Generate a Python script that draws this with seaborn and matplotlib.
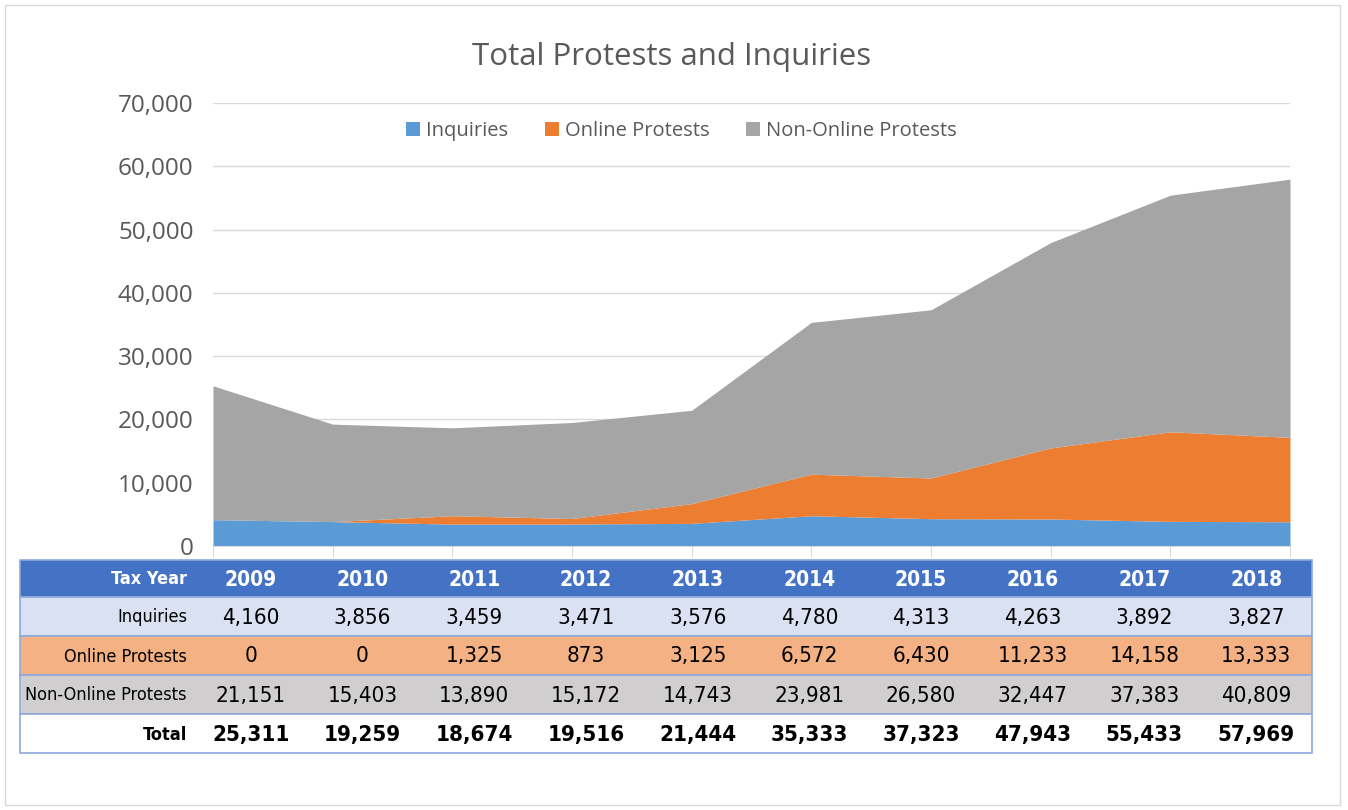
import numpy as np
import matplotlib
matplotlib.use('Agg')
import matplotlib.pyplot as plt
import seaborn as sns
from matplotlib.patches import Rectangle

# Datos
anos = [2009, 2010, 2011, 2012, 2013, 2014, 2015, 2016, 2017, 2018]
inquiries = [4160, 3856, 3459, 3471, 3576, 4780, 4313, 4263, 3892, 3827]
online = [0, 0, 1325, 873, 3125, 6572, 6430, 11233, 14158, 13333]
non_online = [21151, 15403, 13890, 15172, 14743, 23981, 26580, 32447, 37383, 40809]
total = [25311, 19259, 18674, 19516, 21444, 35333, 37323, 47943, 55433, 57969]
series_names = ['Inquiries', 'Online Protests', 'Non-Online Protests']
colores = ['#5B9BD5', '#ED7D31', '#A5A5A5']

sns.set_style('white')
plt.rcParams['font.family'] = ['Open Sans', 'DejaVu Sans']

W, H = 1348, 810
fig = plt.figure(figsize=(W / 100, H / 100), dpi=100)

def fx(px):
    return px / W

def fy(py):
    return 1 - py / H

# Marco exterior
fig.patches.append(Rectangle((fx(5), fy(805)), fx(1335), 800 / H, transform=fig.transFigure,
                             fill=False, edgecolor='#D9D9D9', linewidth=1))

ax = fig.add_axes([fx(213), fy(546), fx(1290 - 213), (546 - 103) / H])
ax.stackplot(anos, inquiries, online, non_online, colors=colores, labels=series_names, linewidth=0)
ax.set_xlim(anos[0], anos[-1])
ax.set_ylim(0, 70000)
ax.set_yticks(np.arange(0, 70001, 10000))
ax.yaxis.set_major_formatter(matplotlib.ticker.FuncFormatter(lambda v, p: f'{int(v):,}'))
ax.tick_params(axis='y', labelsize=17.5, colors='#595959', length=0, pad=14)
ax.set_xticks(anos)
ax.set_xticklabels([])
ax.tick_params(axis='x', length=8, color='#D9D9D9', direction='out')
ax.grid(axis='y', color='#D9D9D9', linewidth=1)
ax.set_axisbelow(True)
for s in ['top', 'right', 'left']:
    ax.spines[s].set_visible(False)
ax.spines['bottom'].set_color('#D9D9D9')
ax.xaxis.set_ticks_position('bottom')

leg = ax.legend(loc='center', bbox_to_anchor=(0.435, (546 - 131) / (546 - 103)), ncol=3,
                frameon=False, fontsize=14.5, handlelength=0.7, handleheight=0.7,
                columnspacing=1.8, handletextpad=0.3)
for t in leg.get_texts():
    t.set_color('#595959')

fig.text(fx(672), fy(57), 'Total Protests and Inquiries', ha='center', va='center',
         fontsize=22.5, color='#595959')

# Tabla de datos
x0, xl, x1 = 20, 195, 1312
cw = (x1 - xl) / len(anos)
filas = [560, 597, 636, 675, 714, 753]
fondos = ['#4472C4', '#D9E1F2', '#F4B183', '#D0CECE', '#FFFFFF']
etiquetas = ['Tax Year', 'Inquiries', 'Online Protests', 'Non-Online Protests', 'Total']
valores = [anos, inquiries, online, non_online, total]

for r in range(5):
    ytop, ybot = filas[r], filas[r + 1]
    fig.patches.append(Rectangle((fx(x0), fy(ybot)), fx(x1 - x0), (ybot - ytop) / H,
                                 transform=fig.transFigure, facecolor=fondos[r],
                                 edgecolor='#8EA9DB', linewidth=1.2))
    ym = fy((ytop + ybot) / 2 + 1)
    color = 'white' if r == 0 else 'black'
    peso = 'bold' if r in (0, 4) else 'normal'
    fig.text(fx(187), ym, etiquetas[r], ha='right', va='center', fontsize=13,
             color=color, fontweight=peso, family='DejaVu Sans', fontstretch='condensed')
    for i, v in enumerate(valores[r]):
        s = str(v) if r == 0 else f'{v:,}'
        fig.text(fx(xl + cw * (i + 0.5)), ym, s, ha='center', va='center',
                 fontsize=15 if r == 0 else 16, color=color, fontweight=peso,
                 family='DejaVu Sans', fontstretch='condensed')

fig.savefig('out.png', dpi=100)
